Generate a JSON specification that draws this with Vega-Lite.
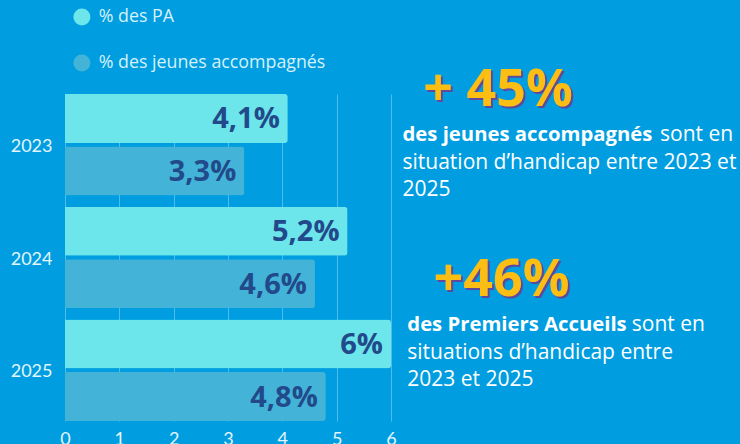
{
  "$schema": "https://vega.github.io/schema/vega-lite/v6.json",
  "background": "#009EE0",
  "padding": {"left": 10, "top": 8, "right": 0, "bottom": 0},
  "bounds": "flush",
  "spacing": 0,
  "config": {"view": {"stroke": null}, "font": "Open Sans"},
  "hconcat": [
    {
      "width": 326,
      "height": 327,
      "data": {
        "values": [
          {"year": "2023", "series": "% des PA", "value": 4.1, "label": "4,1%"},
          {"year": "2023", "series": "% des jeunes accompagnés", "value": 3.3, "label": "3,3%"},
          {"year": "2024", "series": "% des PA", "value": 5.2, "label": "5,2%"},
          {"year": "2024", "series": "% des jeunes accompagnés", "value": 4.6, "label": "4,6%"},
          {"year": "2025", "series": "% des PA", "value": 6.0, "label": "6%"},
          {"year": "2025", "series": "% des jeunes accompagnés", "value": 4.8, "label": "4,8%"}
        ]
      },
      "encoding": {
        "y": {
          "field": "year", "type": "nominal",
          "scale": {"paddingInner": 0.1, "paddingOuter": 0},
          "axis": {"title": null, "domain": false, "ticks": false, "labelPadding": 13, "labelOffset": 2, "labelFontSize": 18, "labelColor": "#E4F5FC", "labelFont": "Lato"}
        },
        "yOffset": {
          "field": "series", "type": "nominal",
          "sort": ["% des PA", "% des jeunes accompagnés"],
          "scale": {"paddingInner": 0.07}
        },
        "x": {
          "field": "value", "type": "quantitative",
          "scale": {"domain": [0, 6], "nice": false},
          "axis": {"title": null, "domain": false, "ticks": false, "values": [0, 1, 2, 3, 4, 5, 6], "grid": true, "gridColor": "#4DBDEE", "gridWidth": 1, "labelFlush": false, "labelPadding": 9, "labelFontSize": 18, "labelColor": "#E4F5FC", "labelFont": "Lato"}
        }
      },
      "layer": [
        {
          "mark": {"type": "bar", "cornerRadiusEnd": 3},
          "encoding": {
            "color": {
              "field": "series", "type": "nominal",
              "sort": ["% des PA", "% des jeunes accompagnés"],
              "scale": {"domain": ["% des PA", "% des jeunes accompagnés"], "range": ["#6CE6EA", "#43B4D8"]},
              "legend": {
                "orient": "none", "legendX": 8, "legendY": -86, "title": null, "direction": "vertical",
                "symbolType": "circle", "symbolSize": 289, "symbolStrokeWidth": 0, "symbolOpacity": 1,
                "labelFontSize": 17.8, "labelColor": "#D6F1FB", "labelFont": "Open Sans", "labelOffset": 8, "labelLimit": 0,
                "rowPadding": 27, "padding": 0
              }
            }
          }
        },
        {
          "mark": {"type": "text", "align": "right", "baseline": "middle", "dx": -8, "dy": 1, "fontSize": 29, "fontWeight": "bold", "color": "#22498A", "font": "Open Sans"},
          "encoding": {"text": {"field": "label"}}
        }
      ]
    },
    {
      "width": 349,
      "height": 327,
      "data": {
        "values": [
          {"px": 30.66, "py": 3.58, "t": "+ 45%", "k": "big"},
          {"px": 3.3, "py": 14.28, "t": "des jeunes accompagnés", "k": "bold"},
          {"px": 77.08, "py": 14.28, "t": "sont en", "k": "reg"},
          {"px": 3.3, "py": 22.94, "t": "situation d’handicap entre 2023 et", "k": "reg"},
          {"px": 3.3, "py": 31.28, "t": "2025", "k": "reg"},
          {"px": 31.66, "py": 61.77, "t": "+46%", "k": "big"},
          {"px": 4.67, "py": 72.39, "t": "des Premiers Accueils", "k": "bold"},
          {"px": 69.0, "py": 72.39, "t": "sont en", "k": "reg"},
          {"px": 4.67, "py": 81.04, "t": "situations d’handicap entre", "k": "reg"},
          {"px": 4.67, "py": 89.39, "t": "2023 et 2025", "k": "reg"}
        ]
      },
      "encoding": {
        "x": {"field": "px", "type": "quantitative", "scale": {"domain": [0, 100], "nice": false, "zero": false}, "axis": null},
        "y": {"field": "py", "type": "quantitative", "scale": {"domain": [0, 100], "reverse": true, "nice": false, "zero": false}, "axis": null},
        "text": {"field": "t"}
      },
      "layer": [
        {
          "transform": [{"filter": "datum.k === 'big'"}],
          "mark": {"type": "text", "align": "center", "baseline": "alphabetic", "fontSize": 52, "fontWeight": "bold", "color": "#5E4A9C", "dx": 2, "dy": 2, "font": "Open Sans"}
        },
        {
          "transform": [{"filter": "datum.k === 'big'"}],
          "mark": {"type": "text", "align": "center", "baseline": "alphabetic", "fontSize": 52, "fontWeight": "bold", "color": "#FDBE14", "font": "Open Sans"}
        },
        {
          "transform": [{"filter": "datum.k === 'bold'"}],
          "mark": {"type": "text", "align": "left", "baseline": "alphabetic", "fontSize": 20.3, "fontWeight": "bold", "color": "#FFFFFF", "font": "Open Sans"}
        },
        {
          "transform": [{"filter": "datum.k === 'reg'"}],
          "mark": {"type": "text", "align": "left", "baseline": "alphabetic", "fontSize": 21, "fontWeight": "normal", "color": "#FFFFFF", "font": "Open Sans"}
        }
      ]
    }
  ]
}
